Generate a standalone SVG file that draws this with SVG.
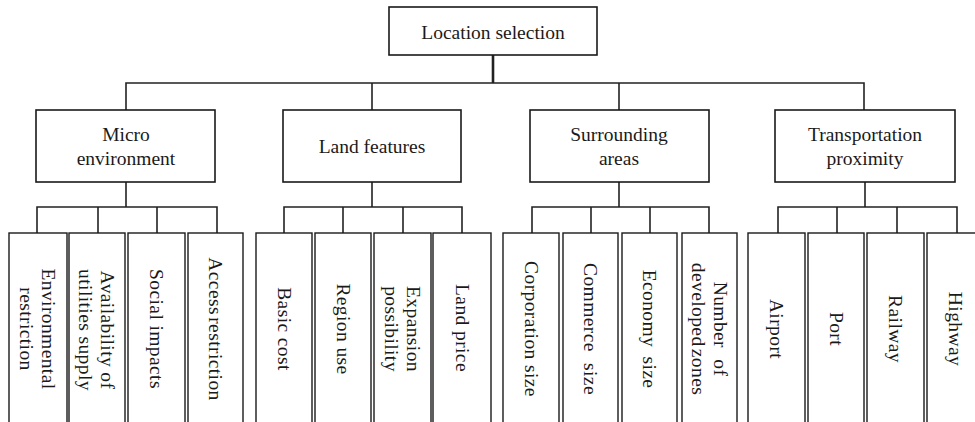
<svg xmlns="http://www.w3.org/2000/svg" width="975" height="422" viewBox="0 0 975 422">
<style>
.box{fill:#fff;stroke:#1a1a1a;stroke-width:1.6}
.leaf{fill:#fff;stroke:#1a1a1a;stroke-width:1.4}
.t{font-family:"Liberation Serif","Times New Roman",serif;font-size:19.5px;fill:#1a1a1a;text-anchor:middle}
.lt{font-family:"Liberation Serif","Times New Roman",serif;font-size:19.5px;letter-spacing:0.4px;fill:#1a1a1a;text-anchor:middle;dominant-baseline:central}
.c{fill:none;stroke:#222;stroke-width:1.6}
</style>
<rect width="975" height="422" fill="#fff"/>
<g id="connectors">
<path class="c" d="M493 55V83" style="stroke-width:2.6"/>
<path class="c" d="M126 110V83H864V110M372 83V110M619 83V110"/>
<path class="c" d="M126 182V207M37 233V207H217V233M98 207V233M157 207V233"/>
<path class="c" d="M372 182V207M284 233V207H462V233M343 207V233M403 207V233"/>
<path class="c" d="M619 182V207M532 233V207H709V233M591 207V233M650 207V233"/>
<path class="c" d="M865 182V207M778 233V207H957V233M837 207V233M897 207V233"/>
</g>
<g id="location-selection"><rect class="box" x="389" y="7" width="208" height="48"/><text class="t" x="493" y="39">Location selection</text></g>
<g id="micro-environment"><rect class="box" x="36" y="110" width="179" height="72"/><text class="t" x="126" y="141">Micro</text><text class="t" x="126" y="165">environment</text></g>
<g id="land-features"><rect class="box" x="283" y="110" width="178" height="72"/><text class="t" x="372" y="153">Land features</text></g>
<g id="surrounding-areas"><rect class="box" x="530" y="110" width="179" height="72"/><text class="t" x="619" y="141">Surrounding</text><text class="t" x="619" y="165">areas</text></g>
<g id="transportation-proximity"><rect class="box" x="775" y="110" width="180" height="72"/><text class="t" x="865" y="141">Transportation</text><text class="t" x="865" y="165">proximity</text></g>

<g id="environmental-restriction"><rect class="leaf" x="9" y="233" width="58" height="200"/><text class="lt" transform="translate(38,329) rotate(90)"><tspan x="0" y="-11">Environmental</tspan><tspan x="0" y="11">restriction</tspan></text></g>
<g id="availability-utilities"><rect class="leaf" x="69" y="233" width="56" height="200"/><text class="lt" transform="translate(97,330) rotate(90)"><tspan x="0" y="-11">Availability of</tspan><tspan x="0" y="11">utilities supply</tspan></text></g>
<g id="social-impacts"><rect class="leaf" x="128" y="233" width="57" height="200"/><text class="lt" transform="translate(156.5,329) rotate(90)" letter-spacing="1">Social impacts</text></g>
<g id="access-restriction"><rect class="leaf" x="188" y="233" width="55" height="200"/><text class="lt" transform="translate(215.5,329) rotate(90)" word-spacing="-3">Access restriction</text></g>

<g id="basic-cost"><rect class="leaf" x="256" y="233" width="56" height="200"/><text class="lt" transform="translate(284,329) rotate(90)">Basic cost</text></g>
<g id="region-use"><rect class="leaf" x="315" y="233" width="56" height="200"/><text class="lt" transform="translate(343,329) rotate(90)">Region use</text></g>
<g id="expansion-possibility"><rect class="leaf" x="374" y="233" width="57" height="200"/><text class="lt" transform="translate(402.5,329) rotate(90)"><tspan x="0" y="-11">Expansion</tspan><tspan x="0" y="11">possibility</tspan></text></g>
<g id="land-price"><rect class="leaf" x="433" y="233" width="58" height="200"/><text class="lt" transform="translate(462,328) rotate(90)">Land price</text></g>

<g id="corporation-size"><rect class="leaf" x="503" y="233" width="56" height="200"/><text class="lt" transform="translate(531,329) rotate(90)">Corporation size</text></g>
<g id="commerce-size"><rect class="leaf" x="563" y="233" width="55" height="200"/><text class="lt" transform="translate(590.5,329) rotate(90)" word-spacing="6">Commerce size</text></g>
<g id="economy-size"><rect class="leaf" x="622" y="233" width="55" height="200"/><text class="lt" transform="translate(649.5,329) rotate(90)" word-spacing="4">Economy size</text></g>
<g id="developed-zones"><rect class="leaf" x="682" y="233" width="55" height="200"/><text class="lt" transform="translate(709.5,329) rotate(90)"><tspan x="0" y="-11" word-spacing="6">Number of</tspan><tspan x="0" y="11" word-spacing="-3">developed zones</tspan></text></g>

<g id="airport"><rect class="leaf" x="748" y="233" width="57" height="200"/><text class="lt" transform="translate(776.5,329) rotate(90)">Airport</text></g>
<g id="port"><rect class="leaf" x="808" y="233" width="56" height="200"/><text class="lt" transform="translate(836,329) rotate(90)">Port</text></g>
<g id="railway"><rect class="leaf" x="867" y="233" width="57" height="200"/><text class="lt" transform="translate(895.5,329) rotate(90)">Railway</text></g>
<g id="highway"><rect class="leaf" x="927" y="233" width="57" height="200"/><text class="lt" transform="translate(955.5,329) rotate(90)">Highway</text></g>
</svg>
